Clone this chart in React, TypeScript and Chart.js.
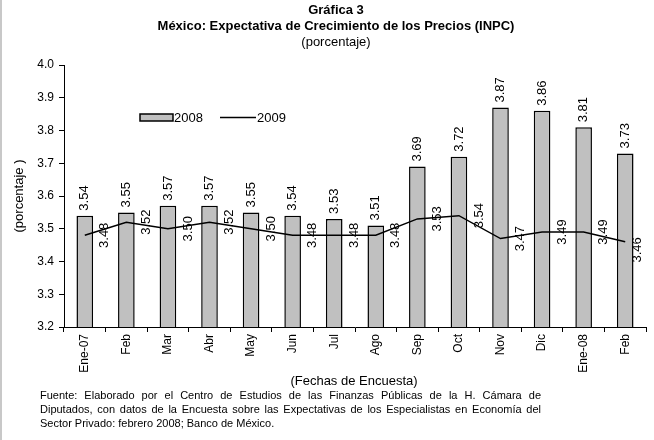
import React, { useEffect, useRef } from 'react';
import { Chart, registerables } from 'chart.js';

Chart.register(...registerables);

const categories = ['Ene-07', 'Feb', 'Mar', 'Abr', 'May', 'Jun', 'Jul', 'Ago', 'Sep', 'Oct', 'Nov', 'Dic', 'Ene-08', 'Feb'];
const values2008 = [3.54, 3.55, 3.57, 3.57, 3.55, 3.54, 3.53, 3.51, 3.69, 3.72, 3.87, 3.86, 3.81, 3.73];
const values2009 = [3.48, 3.52, 3.50, 3.52, 3.50, 3.48, 3.48, 3.48, 3.53, 3.54, 3.47, 3.49, 3.49, 3.46];
const seriesNames = ['2008', '2009'];
const yMin = 3.2;
const yMax = 4.0;
const yStep = 0.1;

const titleLines = ['Gráfica 3', 'México: Expectativa de Crecimiento de los Precios (INPC)'];
const subtitle = '(porcentaje)';
const yAxisTitle = '(porcentaje )';
const xAxisTitle = '(Fechas de Encuesta)';
const footerLines = [
  'Fuente: Elaborado por el Centro de Estudios de las Finanzas Públicas de la H. Cámara de',
  'Diputados, con datos de la Encuesta sobre las Expectativas de los Especialistas en Economía del',
  'Sector Privado: febrero 2008; Banco de México.',
];

const FONT = '"Liberation Sans", Arial, sans-serif';

const decorPlugin = {
  id: 'decor',
  beforeDraw(chart: any) {
    const ctx = chart.ctx;
    ctx.save();
    ctx.fillStyle = '#ffffff';
    ctx.fillRect(0, 0, chart.width, chart.height);
    ctx.fillStyle = '#c8c8c8';
    ctx.fillRect(0, 0, 2, chart.height);
    ctx.restore();
  },
  afterDraw(chart: any) {
    const ctx = chart.ctx;
    const area = chart.chartArea;
    ctx.save();
    ctx.fillStyle = '#000';
    ctx.textBaseline = 'middle';

    // Titles
    ctx.textAlign = 'center';
    ctx.font = `bold 13px ${FONT}`;
    ctx.fillText(titleLines[0], 336, 10);
    ctx.fillText(titleLines[1], 336, 26);
    ctx.font = `13px ${FONT}`;
    ctx.fillText(subtitle, 336, 42);

    // Y axis title
    ctx.save();
    ctx.translate(19, 196);
    ctx.rotate(-Math.PI / 2);
    ctx.fillText(yAxisTitle, 0, 0);
    ctx.restore();

    // X axis title
    ctx.fillText(xAxisTitle, 354, 381);

    // Legend
    ctx.fillStyle = '#c0c0c0';
    ctx.fillRect(140, 114, 33, 7);
    ctx.strokeStyle = '#000';
    ctx.lineWidth = 1.5;
    ctx.strokeRect(140, 114, 33, 7);
    ctx.beginPath();
    ctx.moveTo(220, 117.5);
    ctx.lineTo(256, 117.5);
    ctx.stroke();
    ctx.fillStyle = '#000';
    ctx.textAlign = 'left';
    ctx.fillText(seriesNames[0], 174, 118);
    ctx.fillText(seriesNames[1], 257, 118);

    // Data labels
    ctx.font = `13px ${FONT}`;
    const barMeta = chart.getDatasetMeta(0);
    barMeta.data.forEach((el: any, i: number) => {
      ctx.save();
      ctx.translate(el.x, el.y - 5);
      ctx.rotate(-Math.PI / 2);
      ctx.textAlign = 'left';
      ctx.textBaseline = 'middle';
      ctx.fillText(values2008[i].toFixed(2), 0, 0);
      ctx.restore();
    });
    const lineMeta = chart.getDatasetMeta(1);
    lineMeta.data.forEach((el: any, i: number) => {
      const pushed = el.x + 20 > area.right - 9;
      const x = pushed ? area.right - 9 : el.x + 20;
      const y = pushed ? el.y + 8 : el.y;
      ctx.save();
      ctx.translate(x, y);
      ctx.rotate(-Math.PI / 2);
      ctx.textAlign = 'center';
      ctx.textBaseline = 'middle';
      ctx.fillText(values2009[i].toFixed(2), 0, 0);
      ctx.restore();
    });

    // Footer (justified)
    ctx.font = `11px ${FONT}`;
    ctx.textAlign = 'left';
    const fx = 40;
    const fw = 501;
    const fy = [396, 410, 424];
    footerLines.forEach((line, li) => {
      if (li === footerLines.length - 1) {
        ctx.fillText(line, fx, fy[li]);
        return;
      }
      const words = line.split(' ');
      const widths = words.map((w) => ctx.measureText(w).width);
      const total = widths.reduce((a, b) => a + b, 0);
      const gap = (fw - total) / (words.length - 1);
      let x = fx;
      words.forEach((w, wi) => {
        ctx.fillText(w, x, fy[li]);
        x += widths[wi] + gap;
      });
    });
    ctx.restore();
  },
};

export default function App() {
  const ref = useRef<HTMLCanvasElement>(null);
  useEffect(() => {
    if (!ref.current) return;
    const chart = new Chart(ref.current, {
      type: 'bar',
      data: {
        labels: categories,
        datasets: [
          {
            type: 'bar',
            label: seriesNames[0],
            data: values2008,
            backgroundColor: '#c0c0c0',
            borderColor: '#000',
            borderWidth: 1.5,
            barPercentage: 0.4,
            categoryPercentage: 1,
            order: 1,
          },
          {
            type: 'line',
            label: seriesNames[1],
            data: values2009,
            borderColor: '#000',
            borderWidth: 1.5,
            pointRadius: 0,
            tension: 0,
            fill: false,
            order: 0,
          } as any,
        ],
      },
      options: {
        responsive: false,
        animation: false,
        devicePixelRatio: 1,
        layout: { padding: { top: 65, right: 8, left: 0, bottom: 0 } },
        plugins: {
          legend: { display: false },
          title: { display: false },
          tooltip: { enabled: false },
        },
        scales: {
          x: {
            grid: {
              display: true,
              drawOnChartArea: false,
              drawTicks: true,
              tickLength: 5,
              color: '#000',
              offset: true,
            },
            border: { display: true, color: '#000', width: 1 },
            ticks: {
              color: '#000',
              font: { family: FONT, size: 12 },
              minRotation: 90,
              maxRotation: 90,
              autoSkip: false,
              padding: 2,
            },
            afterFit(scale: any) {
              scale.height = 113;
            },
          },
          y: {
            min: yMin,
            max: yMax,
            grid: {
              display: true,
              drawOnChartArea: false,
              drawTicks: true,
              tickLength: 5,
              color: '#000',
            },
            border: { display: true, color: '#000', width: 1 },
            ticks: {
              stepSize: yStep,
              color: '#000',
              font: { family: FONT, size: 12 },
              padding: 5,
              callback: (v: any) => Number(v).toFixed(1),
            },
            afterFit(scale: any) {
              scale.width = 64;
            },
          },
        },
      },
      plugins: [decorPlugin],
    });
    return () => chart.destroy();
  }, []);
  return (
    <div style={{ position: 'fixed', left: 0, top: 0, width: 654, height: 440 }}>
      <canvas ref={ref} width={654} height={440} />
    </div>
  );
}
